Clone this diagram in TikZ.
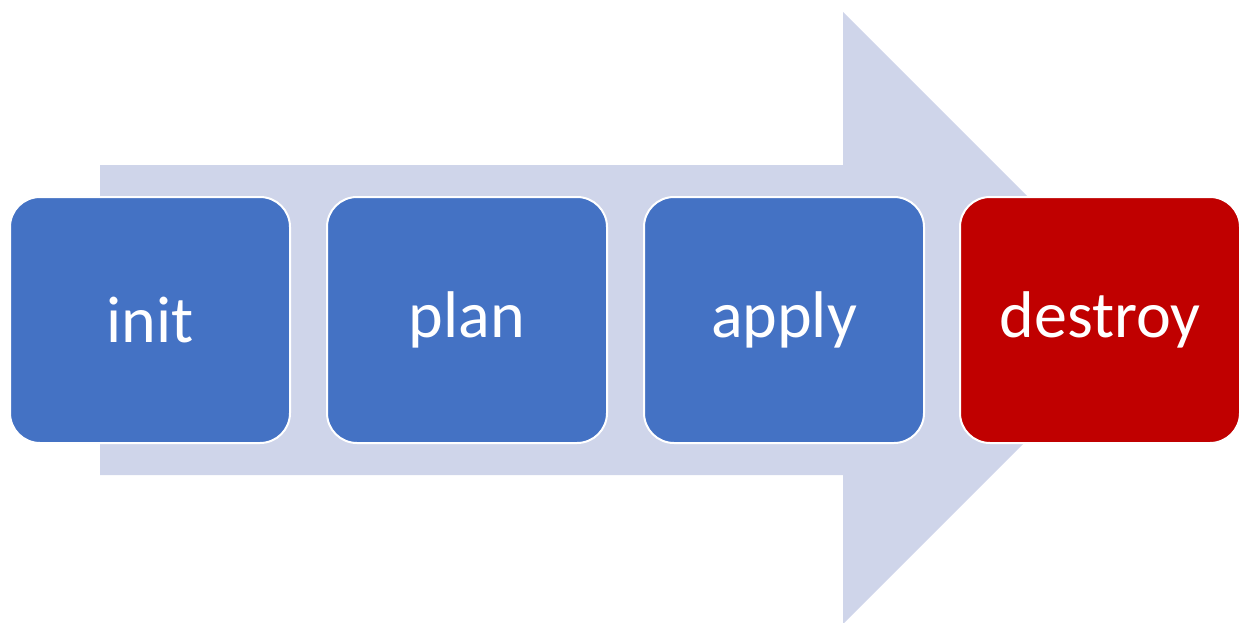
\documentclass[tikz,border=0pt]{standalone}
\usepackage{fontspec}
\setmainfont{Carlito}
\definecolor{stepblue}{HTML}{4472C4}
\definecolor{stepred}{HTML}{C00000}
\definecolor{arrowfill}{HTML}{CFD5EA}
\begin{document}
\begin{tikzpicture}[x=1pt,y=-1pt,
  stepbox/.style={draw=white, line width=2pt, rounded corners=30pt, minimum width=280pt, minimum height=246pt, inner sep=0pt, text=white, font=\fontsize{66}{79}\selectfont, anchor=center},
  bluebox/.style={stepbox, fill=stepblue},
  redbox/.style={stepbox, fill=stepred}]
\useasboundingbox (0,0) rectangle (1249,623);
\fill[arrowfill] (100,165) -- (843,165) -- (843,12) -- (1149,318) -- (843,624) -- (843,475) -- (100,475) -- cycle;
\node[bluebox] (init) at (150,320) {init};
\node[bluebox] (plan) at (467,320) {plan};
\node[bluebox] (apply) at (784,320) {apply};
\node[redbox] (destroy) at (1100,320) {destroy};
\end{tikzpicture}
\end{document}
